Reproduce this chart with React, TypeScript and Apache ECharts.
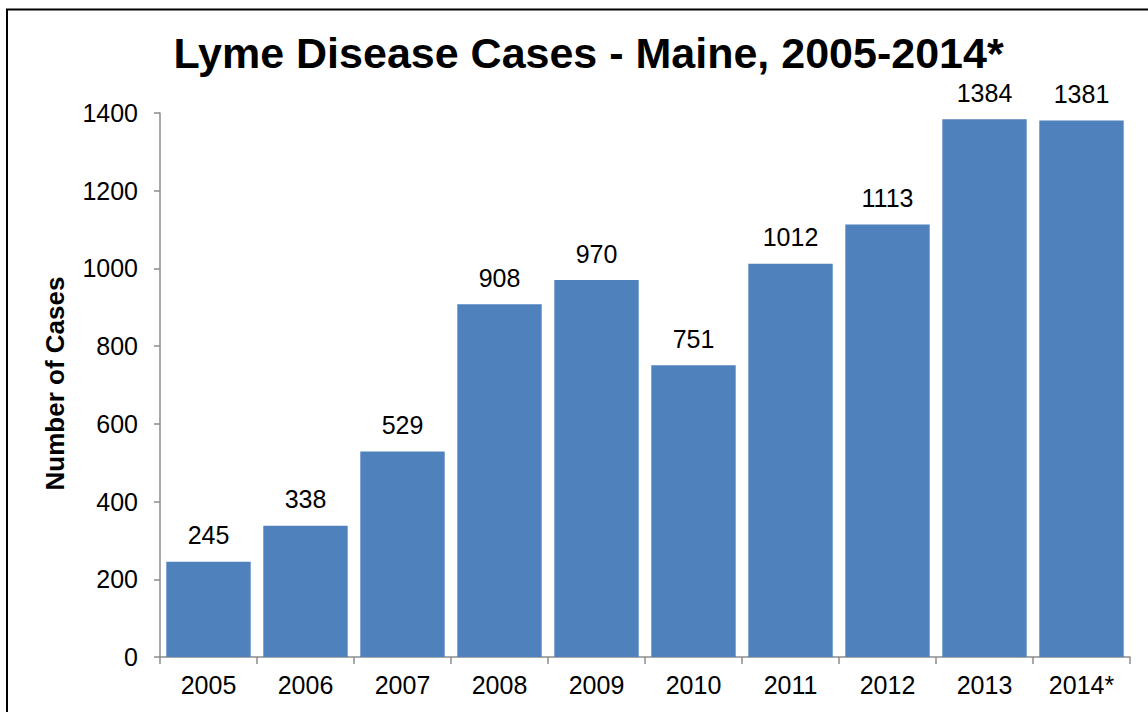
import React, { useEffect, useRef } from "react";
import * as echarts from "echarts";

const years = ["2005", "2006", "2007", "2008", "2009", "2010", "2011", "2012", "2013", "2014*"];
const cases = [245, 338, 529, 908, 970, 751, 1012, 1113, 1384, 1381];
const yTicks = { min: 0, max: 1400, interval: 200 };

const FONT = "'Liberation Sans', Arial, sans-serif";

export default function App() {
  const ref = useRef<HTMLDivElement>(null);
  useEffect(() => {
    if (!ref.current) return;
    const chart = echarts.init(ref.current, undefined, { renderer: "svg" });
    chart.setOption({
      animation: false,
      backgroundColor: "#ffffff",
      textStyle: { fontFamily: FONT },
      grid: { left: 160, right: 18, top: 113, bottom: 55, containLabel: false },
      xAxis: {
        type: "category",
        data: years,
        axisLine: { show: true, lineStyle: { color: "#8c8c8c", width: 1.5 } },
        axisTick: { show: true, alignWithLabel: false, length: 7, lineStyle: { color: "#8c8c8c", width: 1.5 } },
        axisLabel: { color: "#000", fontSize: 25, fontFamily: FONT, margin: 15, interval: 0 },
        splitLine: { show: false },
      },
      yAxis: {
        type: "value",
        min: yTicks.min,
        max: yTicks.max,
        interval: yTicks.interval,
        axisLine: { show: true, lineStyle: { color: "#8c8c8c", width: 1.5 } },
        axisTick: { show: true, length: 6, lineStyle: { color: "#8c8c8c", width: 1.5 } },
        axisLabel: {
          color: "#000",
          fontSize: 25,
          fontFamily: FONT,
          margin: 22,
          formatter: (v: number) => String(v),
        },
        splitLine: { show: false },
      },
      series: [
        {
          type: "bar",
          data: cases,
          barCategoryGap: "13%",
          itemStyle: { color: "#4F81BD" },
          label: {
            show: true,
            position: "top",
            distance: 14,
            color: "#000",
            fontSize: 25,
            fontFamily: FONT,
          },
        },
      ],
      graphic: [
        {
          type: "line",
          shape: { x1: 7, y1: 9, x2: 7, y2: 712 },
          style: { stroke: "#000", lineWidth: 2 },
        },
        {
          type: "line",
          shape: { x1: 6, y1: 9.5, x2: 1148, y2: 9.5 },
          style: { stroke: "#000", lineWidth: 2 },
        },
        {
          type: "text",
          x: 588.5,
          y: 53,
          style: {
            text: "Lyme Disease Cases - Maine, 2005-2014*",
            fontSize: 43,
            fontWeight: "bold",
            fontFamily: FONT,
            fill: "#000",
            align: "center",
            verticalAlign: "middle",
          },
        },
        {
          type: "text",
          x: 55,
          y: 383.5,
          rotation: Math.PI / 2,
          style: {
            text: "Number of Cases",
            fontSize: 26,
            fontWeight: "bold",
            fontFamily: FONT,
            fill: "#000",
            align: "center",
            verticalAlign: "middle",
          },
        },
      ],
    });
    return () => chart.dispose();
  }, []);
  return (
    <div
      ref={ref}
      style={{ position: "absolute", left: 0, top: 0, width: 1148, height: 712 }}
    />
  );
}
